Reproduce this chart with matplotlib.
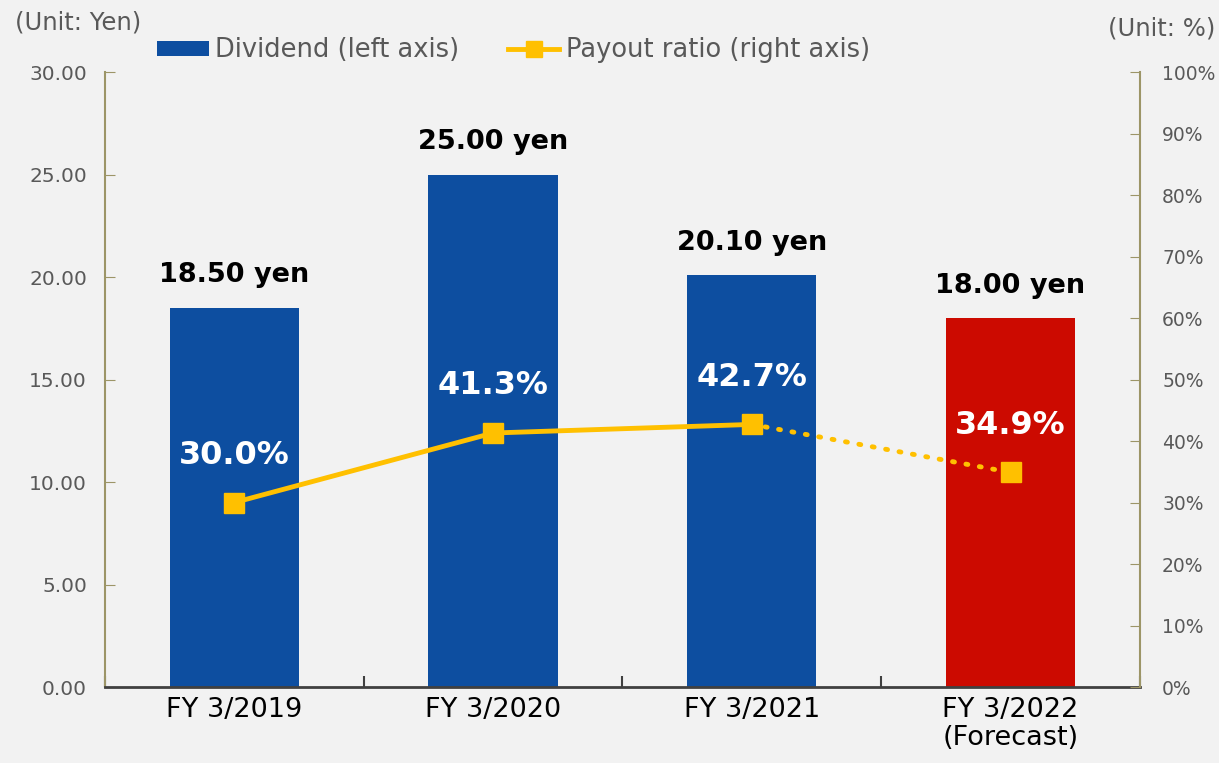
import matplotlib.pyplot as plt
from matplotlib.patches import Patch
from matplotlib.lines import Line2D
import numpy as np

categories = ['FY 3/2019', 'FY 3/2020', 'FY 3/2021', 'FY 3/2022\n(Forecast)']
dividend = [18.50, 25.00, 20.10, 18.00]
payout = [30.0, 41.3, 42.7, 34.9]
bar_colors = ['#0d4ea0', '#0d4ea0', '#0d4ea0', '#cc0a00']

plt.rcParams['font.family'] = ['DejaVu Sans']
bg = '#f2f2f2'
grey = '#595959'
olive = '#9c9567'
yellow = '#ffc000'

fig = plt.figure(figsize=(12.19, 7.63), dpi=100, facecolor=bg)
ax = fig.add_axes([0.0861, 0.0996, 0.849, 0.806], facecolor=bg)
x = np.arange(len(categories))
ax.bar(x, dividend, width=0.5, color=bar_colors, zorder=2)
ax.set_xlim(-0.5, 3.5)
ax.set_ylim(0, 30)
ax.set_yticks(np.arange(0, 31, 5))
ax.set_yticklabels([f'{v:.2f}' for v in np.arange(0, 31, 5)])
ax.tick_params(axis='y', direction='in', colors=olive, labelcolor=grey, labelsize=14.5, length=7, pad=13)
ax.set_xticks(x)
ax.set_xticklabels(categories, fontsize=19.5, color='black', linespacing=1.1)
ax.tick_params(axis='x', length=0, pad=7)
ax.set_xticks(np.arange(-0.5, 4, 1), minor=True)
ax.tick_params(axis='x', which='minor', direction='in', length=8, color='#404040', width=1.5)
for s in ['top', 'right']:
    ax.spines[s].set_visible(False)
ax.spines['left'].set_color(olive)
ax.spines['left'].set_linewidth(1.5)
ax.spines['bottom'].set_color('#404040')
ax.spines['bottom'].set_linewidth(2)
ax.spines['bottom'].set_zorder(5)

for xi, v in zip(x, dividend):
    ax.annotate(f'{v:.2f} yen', (xi, v), xytext=(0, 14), textcoords='offset points',
                ha='center', va='bottom', fontsize=19.5, fontweight='bold', color='black')

ax2 = ax.twinx()
ax2.set_ylim(0, 100)
ax2.set_yticks(np.arange(0, 101, 10))
ax2.set_yticklabels([f'{v}%' for v in range(0, 101, 10)])
ax2.tick_params(axis='y', direction='in', colors=olive, labelcolor=grey, labelsize=13.5, length=7, pad=16)
for s in ['top', 'left', 'bottom']:
    ax2.spines[s].set_visible(False)
ax2.spines['right'].set_color(olive)
ax2.spines['right'].set_linewidth(1.5)

ax2.plot(x[:3], payout[:3], color=yellow, lw=3.5, zorder=3)
ax2.plot(x[2:], payout[2:], color=yellow, lw=3.5, ls=(0, (0.4, 2.4)), dash_capstyle='round', zorder=3)
ax2.plot(x, payout, ls='none', marker='s', ms=15, color=yellow, zorder=4)
for xi, v in zip(x, payout):
    ax2.annotate(f'{v:.1f}%', (xi, v), xytext=(0, 34), textcoords='offset points',
                 ha='center', va='center', fontsize=23, fontweight='bold', color='white')

fig.text(0.012, 0.97, '(Unit: Yen)', fontsize=17.5, color=grey, ha='left', va='center')
fig.text(0.997, 0.962, '(Unit: %)', fontsize=17.5, color=grey, ha='right', va='center')

handles = [Patch(facecolor='#0d4ea0'),
           Line2D([0], [0], color=yellow, lw=3.5, marker='s', ms=12)]
fig.legend(handles, ['Dividend (left axis)', 'Payout ratio (right axis)'],
           loc='center left', bbox_to_anchor=(0.11, 0.934), ncol=2, frameon=False,
           fontsize=18.5, labelcolor=grey, handlelength=2.0, handleheight=0.55,
           columnspacing=1.9, handletextpad=0.25)

fig.savefig('out.png', dpi=100, facecolor=bg)
